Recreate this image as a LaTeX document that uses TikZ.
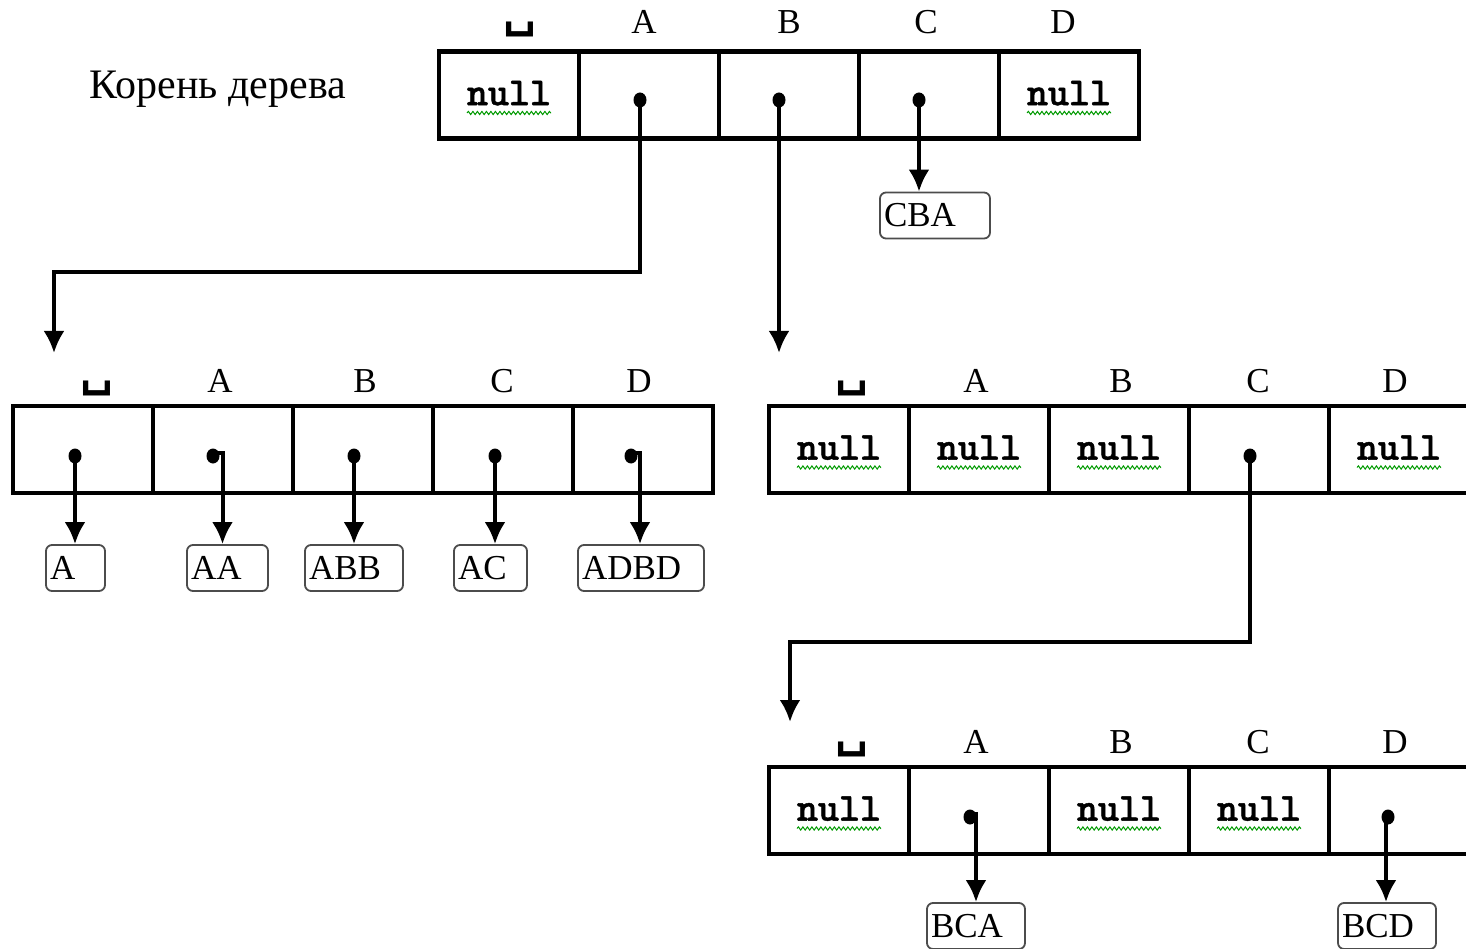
\documentclass[tikz,border=0pt]{standalone}
\usepackage{fontspec}
\setmainfont{Liberation Serif}
\newfontfamily\symf{DejaVu Sans}
\newfontfamily\nullf{lmmonolt10-bold.otf}[FakeBold=1.2]
\usetikzlibrary{arrows.meta,decorations.pathmorphing,shapes.geometric}
\tikzset{
 cell/.style={draw, line width=4.5pt, minimum width=140pt, minimum height=87pt, inner sep=0pt, font=\nullf\fontsize{40}{44}\selectfont},
 lbl/.style={anchor=base, font=\fontsize{35}{40}\selectfont, inner sep=0pt},
 spc/.style={anchor=base, font=\symf\bfseries\fontsize{46}{50}\selectfont, inner sep=0pt, yshift=7pt},
 dot/.style={ellipse, fill, minimum width=13pt, minimum height=15pt, inner sep=0pt},
 conn/.style={line width=4pt, -{Latex[length=22pt,width=21pt]}},
 tbox/.style={draw=black!70, line width=1.8pt, rounded corners=6pt, minimum height=46pt, inner xsep=4pt, inner ysep=0pt, align=left, text width=#1, font=\fontsize{35}{40}\selectfont},
 wavy/.style={draw=green!60!black, line width=1pt, decorate, decoration={snake, segment length=4.5pt, amplitude=1.6pt}},
}
\newcommand\wavyunder[1]{\draw[wavy] ([xshift=-42pt,yshift=-18pt]#1.center) -- ([xshift=42pt,yshift=-18pt]#1.center);}
\newcommand\nulltxt{\raisebox{4pt}{null}}
\begin{document}
\begin{tikzpicture}[x=1pt,y=-1pt]
\useasboundingbox (0,0) rectangle (1466,949);
\clip (0,0) rectangle (1466,949);

% title
\node[font=\fontsize{42}{46}\selectfont, anchor=base, inner sep=0pt] (title) at (218,99) {Корень дерева};

% root table
\node[cell] (r0) at (509,95) {\nulltxt};
\node[cell] (r1) at (649,95) {};
\node[cell] (r2) at (789,95) {};
\node[cell] (r3) at (929,95) {};
\node[cell] (r4) at (1069,95) {\nulltxt};
\wavyunder{r0}\wavyunder{r4}
\node[spc] (rl0) at (520,34) {␣};
\node[lbl] (rl1) at (644,34) {A};
\node[lbl] (rl2) at (789,34) {B};
\node[lbl] (rl3) at (926,34) {C};
\node[lbl] (rl4) at (1063,34) {D};
\node[dot] (rd1) at (640,100) {};
\node[dot] (rd2) at (779,100) {};
\node[dot] (rd3) at (919,100) {};
\node[tbox=102pt] (cba) at (935,215.5) {CBA};

% left table
\node[cell] (l0) at (83,449.5) {};
\node[cell] (l1) at (223,449.5) {};
\node[cell] (l2) at (363,449.5) {};
\node[cell] (l3) at (503,449.5) {};
\node[cell] (l4) at (643,449.5) {};
\node[spc] (ll0) at (97,392) {␣};
\node[lbl] (ll1) at (220,392) {A};
\node[lbl] (ll2) at (365,392) {B};
\node[lbl] (ll3) at (502,392) {C};
\node[lbl] (ll4) at (639,392) {D};
\node[dot] (ld0) at (75,456) {};
\node[dot] (ld1) at (213,456) {};
\node[dot] (ld2) at (354,456) {};
\node[dot] (ld3) at (495,456) {};
\node[dot] (ld4) at (631,456) {};
\node[tbox=51pt] (bA) at (75.5,568) {A};
\node[tbox=73pt] (bAA) at (227.5,568) {AA};
\node[tbox=90pt] (bABB) at (354,568) {ABB};
\node[tbox=65pt] (bAC) at (490.5,568) {AC};
\node[tbox=118pt] (bADBD) at (641,568) {ADBD};

% middle right table
\node[cell] (m0) at (839,449.5) {\nulltxt};
\node[cell] (m1) at (979,449.5) {\nulltxt};
\node[cell] (m2) at (1119,449.5) {\nulltxt};
\node[cell] (m3) at (1259,449.5) {};
\node[cell] (m4) at (1399,449.5) {\nulltxt};
\wavyunder{m0}\wavyunder{m1}\wavyunder{m2}\wavyunder{m4}
\node[spc] (ml0) at (852,392) {␣};
\node[lbl] (ml1) at (976,392) {A};
\node[lbl] (ml2) at (1121,392) {B};
\node[lbl] (ml3) at (1258,392) {C};
\node[lbl] (ml4) at (1395,392) {D};
\node[dot] (md3) at (1250,456) {};

% bottom table
\node[cell] (b0) at (839,810.5) {\nulltxt};
\node[cell] (b1) at (979,810.5) {};
\node[cell] (b2) at (1119,810.5) {\nulltxt};
\node[cell] (b3) at (1259,810.5) {\nulltxt};
\node[cell] (b4) at (1399,810.5) {};
\wavyunder{b0}\wavyunder{b2}\wavyunder{b3}
\node[spc] (bl0) at (852,753) {␣};
\node[lbl] (bl1) at (976,753) {A};
\node[lbl] (bl2) at (1121,753) {B};
\node[lbl] (bl3) at (1258,753) {C};
\node[lbl] (bl4) at (1395,753) {D};
\node[dot] (bd1) at (970,817) {};
\node[dot] (bd4) at (1388,817) {};
\node[tbox=90pt] (bBCA) at (976,926) {BCA};
\node[tbox=90pt] (bBCD) at (1387,926) {BCD};

% connectors
\coordinate (tipL) at (54,353);
\coordinate (bendA) at (640,272);
\coordinate (tipR) at (779,353);
\coordinate (tipB) at (790,722);
\coordinate (bendC) at (1250,642);
\draw[conn] (rd1.center) -- (bendA) -| (tipL);
\draw[conn] (rd2.center) -- (tipR);
\draw[conn] (rd3.center) -- (rd3.center |- cba.north);
\draw[conn] (ld0.center) -- (ld0.center |- bA.north);
\draw[conn] ([yshift=3pt]ld1.center) -| ([xshift=-5pt]bAA.north);
\draw[conn] (ld2.center) -- (ld2.center |- bABB.north);
\draw[conn] (ld3.center) -- (ld3.center |- bAC.north);
\draw[conn] ([yshift=3pt]ld4.center) -| ([xshift=-1pt]bADBD.north);
\draw[conn] (md3.center) -- (bendC) -| (tipB);
\draw[conn] ([yshift=3pt]bd1.center) -| (bBCA.north);
\draw[conn] (bd4.center) -| ([xshift=-1pt]bBCD.north);
\end{tikzpicture}
\end{document}
